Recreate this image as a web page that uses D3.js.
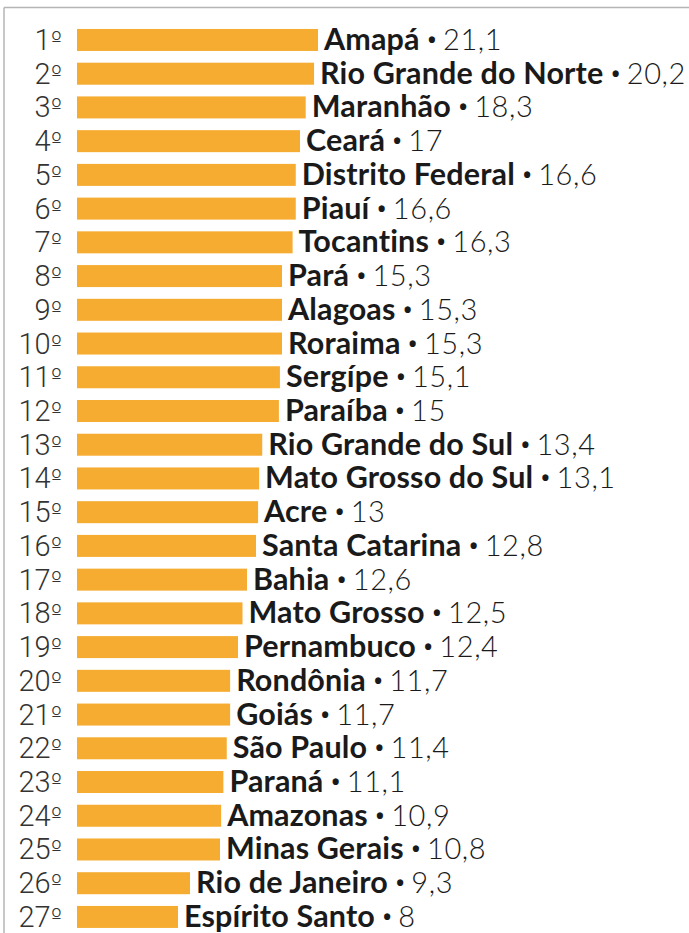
<!DOCTYPE html>
<html>
<head>
<meta charset="utf-8">
<script src="https://cdn.jsdelivr.net/npm/d3@7"></script>
<style>
  html, body { margin: 0; padding: 0; background: #fff; }
  svg { display: block; }
</style>
</head>
<body>
<svg id="chart" width="689" height="933"></svg>
<script>
const ranks = ["1º","2º","3º","4º","5º","6º","7º","8º","9º","10º","11º","12º","13º","14º","15º","16º","17º","18º","19º","20º","21º","22º","23º","24º","25º","26º","27º"];
const states = ["Amapá","Rio Grande do Norte","Maranhão","Ceará","Distrito Federal","Piauí","Tocantins","Pará","Alagoas","Roraima","Sergípe","Paraíba","Rio Grande do Sul","Mato Grosso do Sul","Acre","Santa Catarina","Bahia","Mato Grosso","Pernambuco","Rondônia","Goiás","São Paulo","Paraná","Amazonas","Minas Gerais","Rio de Janeiro","Espírito Santo"];
const values = [21.1,20.2,18.3,17,16.6,16.6,16.3,15.3,15.3,15.3,15.1,15,13.4,13.1,13,12.8,12.6,12.5,12.4,11.7,11.7,11.4,11.1,10.9,10.8,9.3,8];
const valueLabels = ["21,1","20,2","18,3","17","16,6","16,6","16,3","15,3","15,3","15,3","15,1","15","13,4","13,1","13","12,8","12,6","12,5","12,4","11,7","11,7","11,4","11,1","10,9","10,8","9,3","8"];

const svg = d3.select("#chart");
const FONT = "Lato, 'Open Sans', sans-serif";

// frame
svg.append("line").attr("x1",4).attr("x2",689).attr("y1",7.5).attr("y2",7.5)
  .attr("stroke","#b5b5b5").attr("stroke-width",1.5);
svg.append("line").attr("x1",4).attr("x2",4).attr("y1",7.5).attr("y2",933)
  .attr("stroke","#b5b5b5").attr("stroke-width",1.5);

const y = d3.scaleBand().domain(ranks).range([23.1, 933.8]).paddingInner(0.348).paddingOuter(0.174);
// bar lengths in the original graphic are not strictly proportional; piecewise scale follows them
const x = d3.scaleLinear()
  .domain([8, 9.3, 10.8, 12.4, 12.8, 15.3, 17, 21.1])
  .range([178, 190, 220, 238, 256, 282, 300, 318]);
const x0 = 77;

const rows = svg.append("g").selectAll("g").data(ranks).join("g");

rows.append("rect")
  .attr("x", x0)
  .attr("y", d => y(d))
  .attr("width", (d,i) => x(values[i]) - x0)
  .attr("height", y.bandwidth())
  .attr("fill", "#F5AC30");

const rk = rows.append("text")
  .attr("x", 62)
  .attr("y", d => y(d) + y.bandwidth() - 1)
  .attr("text-anchor","end")
  .attr("font-family", "Roboto, 'Open Sans', sans-serif")
  .attr("font-weight", 300)
  .attr("font-size", 29)
  .attr("fill","#333");
rk.append("tspan").text(d => d.replace("º",""));
rk.append("tspan").attr("font-family","'DejaVu Sans', sans-serif").attr("font-size", 24)
  .attr("dy", -1).text("º");

const lab = rows.append("text")
  .attr("x", (d,i) => x(values[i]) + 6)
  .attr("y", d => y(d) + y.bandwidth() - 1)
  .attr("font-family", FONT)
  .attr("font-size", 30.5)
  .attr("fill","#1a1a1a");
lab.append("tspan").attr("font-weight", 700).attr("letter-spacing", 0.15).text((d,i) => states[i]);
lab.append("tspan").attr("font-weight", 700).attr("font-family","'Open Sans', sans-serif")
  .attr("font-size", 22).attr("dx", 8).attr("dy", -2).text("•");
lab.append("tspan").attr("font-weight", 300).attr("font-size", 29).attr("dx", 7).attr("dy", 2)
  .attr("letter-spacing", 0.6)
  .text((d,i) => valueLabels[i]);
</script>
</body>
</html>
